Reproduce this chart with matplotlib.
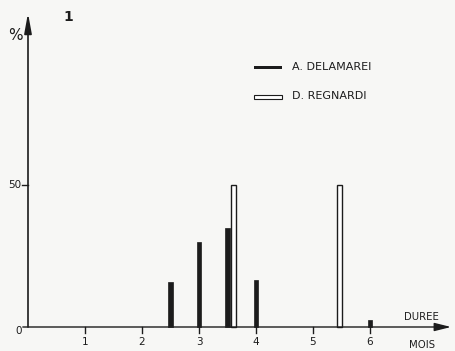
import matplotlib.pyplot as plt

# durations (months) and percentages
delamarei_x = [2.5, 3.0, 3.5, 4.0, 6.0]
delamarei_pct = [16, 30, 35, 16.5, 2.5]
regnardi_x = [3.6, 5.47]
regnardi_pct = [50, 50]
xticks = [1, 2, 3, 4, 5, 6]

w, h = 455, 351
fig = plt.figure(figsize=(w / 100, h / 100), dpi=100, facecolor='#f7f7f5')
ax = fig.add_axes([0, 0, 1, 1])
ax.set_facecolor('#f7f7f5')
ax.set_xlim(-28 / 57, (w - 28) / 57)
ax.set_ylim(-24 / 2.84, 327 / 2.84)
ax.axis('off')

ink = '#1c1c1c'
plt.rcParams['font.family'] = 'DejaVu Sans'

# axes with arrows
ax.annotate('', xy=(7.47, 0), xytext=(-0.14, 0),
            arrowprops=dict(arrowstyle='-|>,head_width=0.25,head_length=1.0', color=ink, lw=1.0))
ax.annotate('', xy=(0, 111.5), xytext=(0, -1),
            arrowprops=dict(arrowstyle='-|>,head_width=0.22,head_length=1.2', color=ink, lw=1.2))

for t in xticks:
    ax.plot([t, t], [0, -2.2], color=ink, lw=1)
    ax.text(t, -5.4, str(t), ha='center', va='center', fontsize=7.5, color=ink)
ax.plot([-0.1, 0], [50, 50], color=ink, lw=1)
ax.text(-0.12, 50, '50', ha='right', va='center', fontsize=7.5, color=ink)
ax.text(-0.1, -1.5, '0', ha='right', va='center', fontsize=7.5, color=ink)
ax.text(-0.22, 102.5, '%', ha='center', va='center', fontsize=11, color=ink)
ax.text(0.7, 109, '1', ha='center', va='center', fontsize=10, color=ink, fontweight='bold')
ax.text(6.91, 3.6, 'DUREE', ha='center', va='center', fontsize=7.3, color=ink)
ax.text(6.91, -6.3, 'MOIS', ha='center', va='center', fontsize=7.3, color=ink)

ax.bar(delamarei_x, delamarei_pct, width=0.075, color=ink, edgecolor=ink, lw=0.5)
ax.bar(regnardi_x, regnardi_pct, width=0.09, color='white', edgecolor=ink, lw=1)

# legend
ax.bar([4.21], [1.2], bottom=[90.8], width=0.49, color=ink)
ax.text(4.63, 91.6, 'A. DELAMAREI', ha='left', va='center', fontsize=8, color=ink)
ax.bar([4.21], [1.3], bottom=[80.3], width=0.49, color='white', edgecolor=ink, lw=0.8)
ax.text(4.63, 81.2, 'D. REGNARDI', ha='left', va='center', fontsize=8, color=ink)

fig.savefig('out.png', dpi=100, facecolor=fig.get_facecolor())
